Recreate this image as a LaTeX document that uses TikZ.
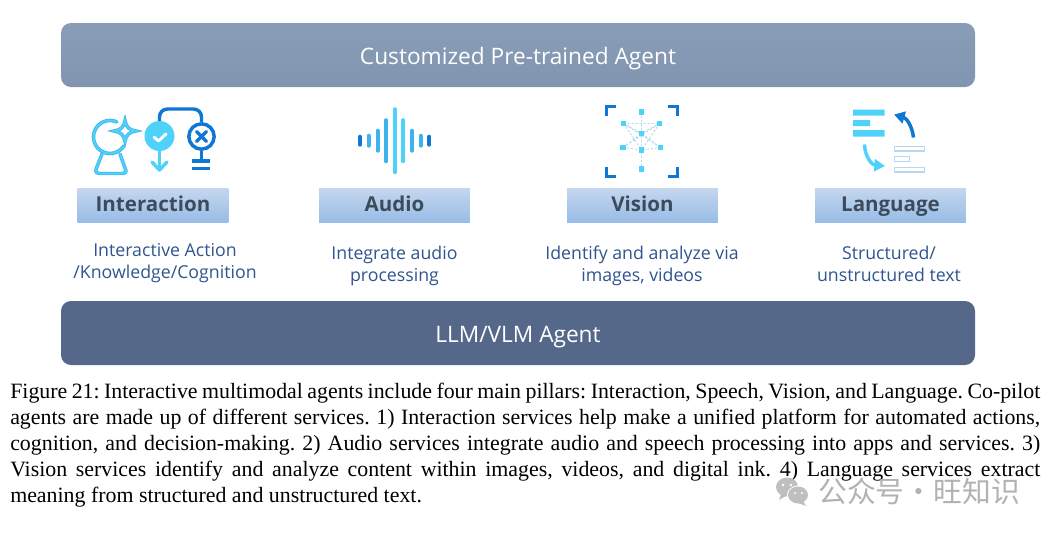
\documentclass[tikz,border=0pt]{standalone}
\usepackage{fontspec}
\setmainfont{Liberation Serif}
\newfontfamily\uifont{Open Sans}
\newfontfamily\cjkwm{Noto Sans CJK SC}
\usetikzlibrary{arrows.meta}
\definecolor{topA}{HTML}{8A9DB7}
\definecolor{topB}{HTML}{8195B0}
\definecolor{botbar}{HTML}{56688A}
\definecolor{labA}{HTML}{C4D6EE}
\definecolor{labB}{HTML}{98BCE6}
\definecolor{labtxt}{HTML}{3D4C5C}
\definecolor{subtxt}{HTML}{2F5590}
\definecolor{iconL}{HTML}{4FD2FA}
\definecolor{iconM}{HTML}{3DB2EE}
\definecolor{iconD}{HTML}{0F78D4}
\definecolor{iconP}{HTML}{B9D8F0}
\tikzset{
  x=0.75pt,y=-0.75pt,
  barbox/.style={rounded corners=7.5pt,draw=none,minimum width=685.5pt,minimum height=48pt,inner sep=0pt,text height=14.5pt,text depth=0pt,text=white,font=\uifont\fontsize{17}{20}\selectfont},
  labbox/.style={draw=none,top color=labA,bottom color=labB,minimum width=113pt,minimum height=24.8pt,inner sep=0pt,text height=11.5pt,text depth=3pt,text=labtxt,font=\uifont\fontsize{15.4}{19}\selectfont\bfseries},
  subtext/.style={align=center,text=subtxt,inner sep=0pt,font=\uifont\fontsize{13.3}{16.5}\selectfont},
  dk/.style={draw=iconD,line width=2.6pt},
  lt/.style={draw=iconL,line width=2.2pt},
  vdot/.style={fill=iconL,draw=none,minimum size=4.2pt,inner sep=0pt,rectangle},
  vlink/.style={draw=iconP,line width=0.7pt,dash pattern=on 1.6pt off 1.4pt},
  sbar/.style={line width=3pt,line cap=round},
  outl/.style={draw=iconP,line width=0.9pt,fill=white},
}
\begin{document}
\begin{tikzpicture}
\useasboundingbox[fill=white] (0,0) rectangle (1056,533);
% bars
\node[barbox,top color=topA,bottom color=topB] (top) at (518,55) {Customized Pre-trained Agent};
\node[barbox,fill=botbar] (bot) at (518,333) {LLM/VLM Agent};
% labels
\node[labbox] (l1) at (153,205.5) {Interaction};
\node[labbox] (l2) at (394.5,205.5) {Audio};
\node[labbox] (l3) at (642.5,205.5) {Vision};
\node[labbox] (l4) at (890.5,205.5) {Language};
\node[subtext] (s1) at (165,263) {Interactive Action\\/Knowledge/Cognition};
\node[subtext] (s2) at (394.5,266) {Integrate audio\\processing};
\node[subtext] (s3) at (642,266) {Identify and analyze via\\images, videos};
\node[subtext] (s4) at (889,264) {Structured/\\unstructured text};
% interaction icon
\draw[draw=iconM,line width=2.7pt,line cap=round] (116.7,121.9) arc[start angle=-66,end angle=-327,radius=16.5];
\draw[lt,line width=1.5pt,line cap=round] (116.7,121.9) arc[start angle=-66,end angle=-327,radius=16.5];
\draw[draw=iconM,line width=2.6pt,line cap=round] (102,154) -- (96.5,168) .. controls (95,172) and (96,173) .. (100,173.5) -- (122,173.5) .. controls (126,173) and (127,172) .. (125,168) -- (120,154);
\draw[lt,line width=1.5pt,line cap=round] (102,154) -- (96.5,168) .. controls (95,172) and (96,173) .. (100,173.5) -- (122,173.5) .. controls (126,173) and (127,172) .. (125,168) -- (120,154);
\draw[fill=white,draw=iconM,line width=2.6pt] (125,120.5) .. controls (126,127) and (129,130) .. (136,131) .. controls (129,132) and (126,135) .. (125,141.5) .. controls (124,135) and (121,132) .. (114,131) .. controls (121,130) and (124,127) .. (125,120.5) -- cycle;
\draw[lt,line width=1.5pt] (125,120.5) .. controls (126,127) and (129,130) .. (136,131) .. controls (129,132) and (126,135) .. (125,141.5) .. controls (124,135) and (121,132) .. (114,131) .. controls (121,130) and (124,127) .. (125,120.5) -- cycle;
\draw[dk,rounded corners=6pt] (159.5,122) -- (159.5,109) -- (201.5,109) -- (201.5,122);
\node[circle,fill=iconL,minimum size=22.5pt,inner sep=0pt] (chk) at (159.5,136) {};
\draw[white,line width=2.2pt,line cap=round,line join=round] (154,137) -- (158.5,141) -- (166,134);
\coordinate (chkend) at (159.5,170);
\draw[iconL,line width=2.6pt] (chk.south) -- (chkend);
\draw[iconL,line width=2.6pt,line cap=round,line join=round] (152,162) -- (chkend) -- (167,162);
\node[circle,draw=iconD,line width=2.6pt,fill=white,minimum size=19pt,inner sep=0pt] (xc) at (201.5,136.5) {};
\draw[iconD,line width=2.5pt,line cap=round] (196.5,131.5) -- (206.5,141.5) (206.5,131.5) -- (196.5,141.5);
\coordinate (xend) at (201.5,161);
\draw[dk] (xc.south) -- (xend);
\draw[dk] (192,161) -- (210,161) (192,168.5) -- (210,168.5);
% audio icon
\foreach \xx/\hh/\cc in {360/4/iconD,368.5/5/iconM,377.5/10/iconM,386/20.5/iconM,394.7/31.5/iconL,403.3/20.5/iconL,412/10/iconM,420.5/5/iconM,429.3/4/iconD}
  \draw[sbar,\cc] (\xx,140.7-\hh) -- (\xx,140.7+\hh);
% vision icon
\foreach \n/\px/\py in {a/641.5/112,b/623.5/123.5,c/659.5/123.5,d/641.5/133.5,e/623/147.5,f/660.5/147.5,g/641.5/150,h/641.5/169}
  \coordinate (\n) at (\px,\py);
\draw[vlink] (a)--(d)--(g)--(h) (b)--(c) (b)--(g) (c)--(g) (b)--(d) (c)--(d) (e)--(g)--(f) (e)--(d)--(f) (e)--(c) (f)--(b);
\foreach \n in {a,b,c,d,e,f,g,h} \node[vdot] at (\n) {};
\draw[iconD,line width=2.3pt] (606.5,116) -- (606.5,106.5) -- (616,106.5);
\draw[iconD,line width=2.3pt] (667.5,106.5) -- (677.5,106.5) -- (677.5,116);
\draw[iconD,line width=2.3pt] (606.5,167) -- (606.5,176.5) -- (616,176.5);
\draw[iconD,line width=2.3pt] (667.5,176.5) -- (677.5,176.5) -- (677.5,167);
% language icon
\fill[iconL] (853,109.5) rectangle (884.5,115.5) (853,120) rectangle (870,126) (853,130) rectangle (884.5,136.5);
\draw[outl] (894.5,146.5) rectangle (924.5,151) (894.5,156.8) rectangle (909.5,161.3) (894.5,167.5) rectangle (924.5,172);
\draw[iconD,line width=2.6pt,-{Triangle[length=8pt,width=9pt]}] (913.5,137.5) .. controls (912,125) and (906,118) .. (894,114.5);
\draw[iconL,line width=2.6pt,-{Triangle[length=8pt,width=9pt]}] (864.5,144.5) .. controls (865,157) and (872,165) .. (885,166);
% caption
\node[anchor=north west,inner sep=0pt,text width=772.5pt,align=justify,font=\fontsize{16.4}{19.5}\selectfont\frenchspacing] (cap) at (10,383) {Figure 21: Interactive multimodal agents include four main pillars: Interaction, Speech, Vision, and Language. Co-pilot\linebreak
agents are made up of different services. 1) Interaction services help make a unified platform for automated actions,\linebreak
cognition, and decision-making. 2) Audio services integrate audio and speech processing into apps and services. 3)\linebreak
Vision services identify and analyze content within images, videos, and digital ink. 4) Language services extract\linebreak
meaning from structured and unstructured text.};
% watermark
\fill[gray!55,opacity=.9] (787,487) ellipse[x radius=11,y radius=9.5];
\fill[gray!55,opacity=.9] (781,494) -- (779,500) -- (786,496) -- cycle;
\fill[white] (798,495) ellipse[x radius=11,y radius=9.5];
\fill[gray!55,opacity=.9] (798,495) ellipse[x radius=10,y radius=8.5];
\fill[gray!55,opacity=.9] (803,501) -- (806,506) -- (798,503) -- cycle;
\fill[white] (783,485) circle[radius=1.3] (791,485) circle[radius=1.3] (795,493) circle[radius=1.1] (802,493) circle[radius=1.1];
\node[anchor=west,inner sep=0pt,text=gray!60,font=\cjkwm\fontsize{21.6}{24}\selectfont] (wm) at (818,491) {公众号·旺知识};
\end{tikzpicture}
\end{document}
